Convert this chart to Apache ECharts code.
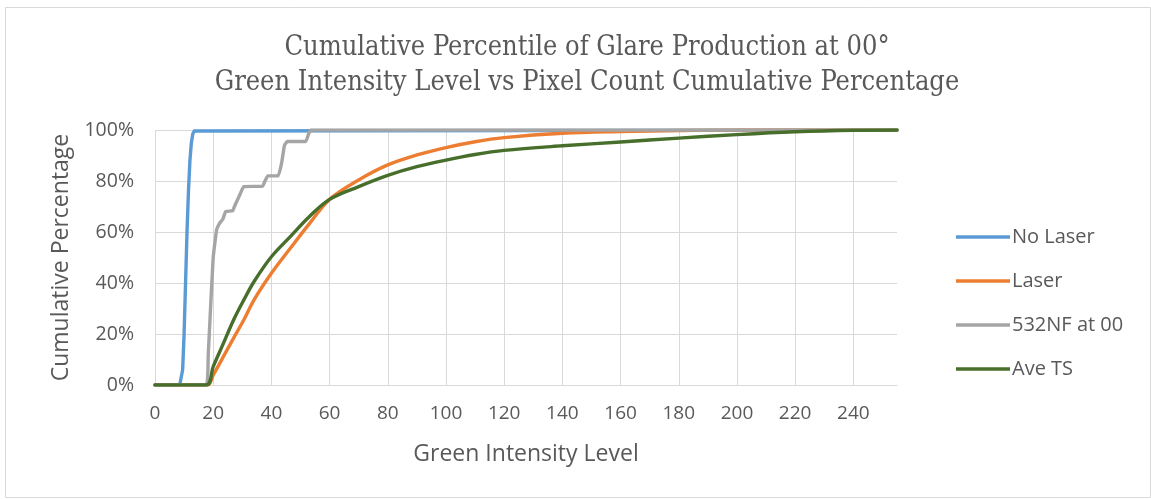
<!DOCTYPE html>
<html><head><meta charset="utf-8">
<script src="https://cdn.jsdelivr.net/npm/echarts@6/dist/echarts.min.js"></script>
<style>html,body{margin:0;padding:0;background:#fff}#c{width:1151px;height:499px}</style>
</head><body><div id="c"></div>
<script>
const titleLines = ['Cumulative Percentile of Glare Production at 00°', 'Green Intensity Level vs Pixel Count Cumulative Percentage'];
const xAxisTitle = 'Green Intensity Level';
const yAxisTitle = 'Cumulative Percentage';
const seriesNames = ['No Laser', 'Laser', '532NF at 00', 'Ave TS'];

const noLaserX = [0, 8.5, 9.5, 10, 10.5, 11, 11.5, 12, 12.5, 13, 13.5, 14, 255];
const noLaserY = [0, 0, 6, 20, 40, 60, 76, 88, 95, 98.5, 99.6, 100, 100];

const laserX = [0, 18, 20, 23.5, 27, 30.5, 34, 40, 46.5, 53, 60, 70, 80, 90, 100, 110, 120, 140, 160, 180, 200, 255];
const laserY = [0, 0, 3.9, 11.1, 18.4, 25.5, 33.3, 43.8, 53.6, 63.2, 72.8, 80.4, 86.3, 90.2, 93.1, 95.4, 97, 98.7, 99.4, 99.8, 100, 100];

const nf532X = [0, 17.6, 18.3, 19, 20, 21.2, 22.3, 23.3, 24.3, 26.7, 27.3, 28.3, 29.3, 30.5, 37, 37.8, 38.8, 42.3, 43.5, 44.5, 45.5, 51.8, 52.8, 53.6, 255];
const nf532Y = [0, 0, 12, 28, 50, 61, 63.6, 65, 68, 68.3, 70, 72.5, 75, 77.8, 78, 80, 82, 82, 87, 94, 95.5, 95.5, 98.5, 100, 100];

const aveTSX = [0, 17.6, 20, 23.5, 27, 30.5, 34, 40, 46.5, 53, 60, 70, 80, 90, 100, 110, 120, 140, 160, 180, 200, 220, 240, 255];
const aveTSY = [0, 0, 7.2, 16.3, 25.5, 33.3, 40.5, 50.3, 58.2, 66, 72.8, 77.8, 82.2, 85.6, 88.2, 90.4, 92, 93.8, 95.3, 96.8, 98.2, 99.3, 99.9, 100];

const xTicks = [0, 20, 40, 60, 80, 100, 120, 140, 160, 180, 200, 220, 240];

function pairs(xs, ys) { return xs.map((x, i) => [x, ys[i]]); }

const colors = ['#5B9BD5', '#ED7D31', '#A5A5A5', '#476E2A'];
const smoothing = [false, 0.35, 0.12, 0.35];
const gridColors = xTicks.map(() => '#D9D9D9').concat(['rgba(0,0,0,0)']);
const sansFont = '"Open Sans", "Noto Sans", sans-serif';

const chart = echarts.init(document.getElementById('c'), null, {renderer: 'canvas'});
const lineSeries = [
  [noLaserX, noLaserY], [laserX, laserY], [nf532X, nf532Y], [aveTSX, aveTSY]
].map((d, i) => ({
  name: seriesNames[i],
  type: 'line',
  data: pairs(d[0], d[1]),
  showSymbol: false,
  smooth: smoothing[i],
  lineStyle: {width: 3.4, color: colors[i], cap: 'round', join: 'round'},
  itemStyle: {color: colors[i]},
  z: [2, 3, 4, 5][i]
}));

chart.setOption({
  animation: false,
  backgroundColor: '#fff',
  graphic: [{
    type: 'rect', left: 3, top: 5, shape: {width: 1145, height: 490},
    style: {fill: 'none', stroke: '#D9D9D9', lineWidth: 1}, silent: true
  }],
  title: {
    text: titleLines.join('\n'),
    left: 582, textAlign: 'center', top: 25,
    textStyle: {fontFamily: '"DejaVu Serif Condensed", "Liberation Serif", serif', fontWeight: 'normal', fontSize: 27, lineHeight: 35, color: '#595959'}
  },
  legend: {
    orient: 'vertical', left: 951, top: 222, itemGap: 24, itemWidth: 54, itemHeight: 14,
    icon: 'path://M0,6 L54,6 L54,9.5 L0,9.5 Z',
    textStyle: {fontFamily: sansFont, fontSize: 20, color: '#595959', padding: [0, 0, 0, -3]},
    data: seriesNames
  },
  grid: {left: 155, right: 254, top: 130, bottom: 114, containLabel: false},
  xAxis: {
    type: 'value', min: 0, max: 255, interval: 20,
    name: xAxisTitle, nameLocation: 'middle', nameGap: 58,
    nameTextStyle: {fontFamily: sansFont, fontSize: 23, color: '#595959'},
    axisLine: {show: true, lineStyle: {color: '#D9D9D9', width: 1}},
    axisTick: {show: false},
    axisLabel: {showMaxLabel: false, margin: 19, fontFamily: sansFont, fontSize: 19, color: '#595959'},
    splitLine: {show: true, lineStyle: {color: gridColors, width: 1}}
  },
  yAxis: {
    type: 'value', min: 0, max: 100, interval: 20,
    name: yAxisTitle, nameLocation: 'middle', nameGap: 82, nameRotate: 90,
    nameTextStyle: {fontFamily: sansFont, fontSize: 23, color: '#595959'},
    axisLine: {show: false}, axisTick: {show: false},
    axisLabel: {formatter: v => v + '%', margin: 21, fontFamily: sansFont, fontSize: 19.5, color: '#595959'},
    splitLine: {show: true, lineStyle: {color: '#D9D9D9', width: 1}}
  },
  series: lineSeries
});
</script></body></html>
